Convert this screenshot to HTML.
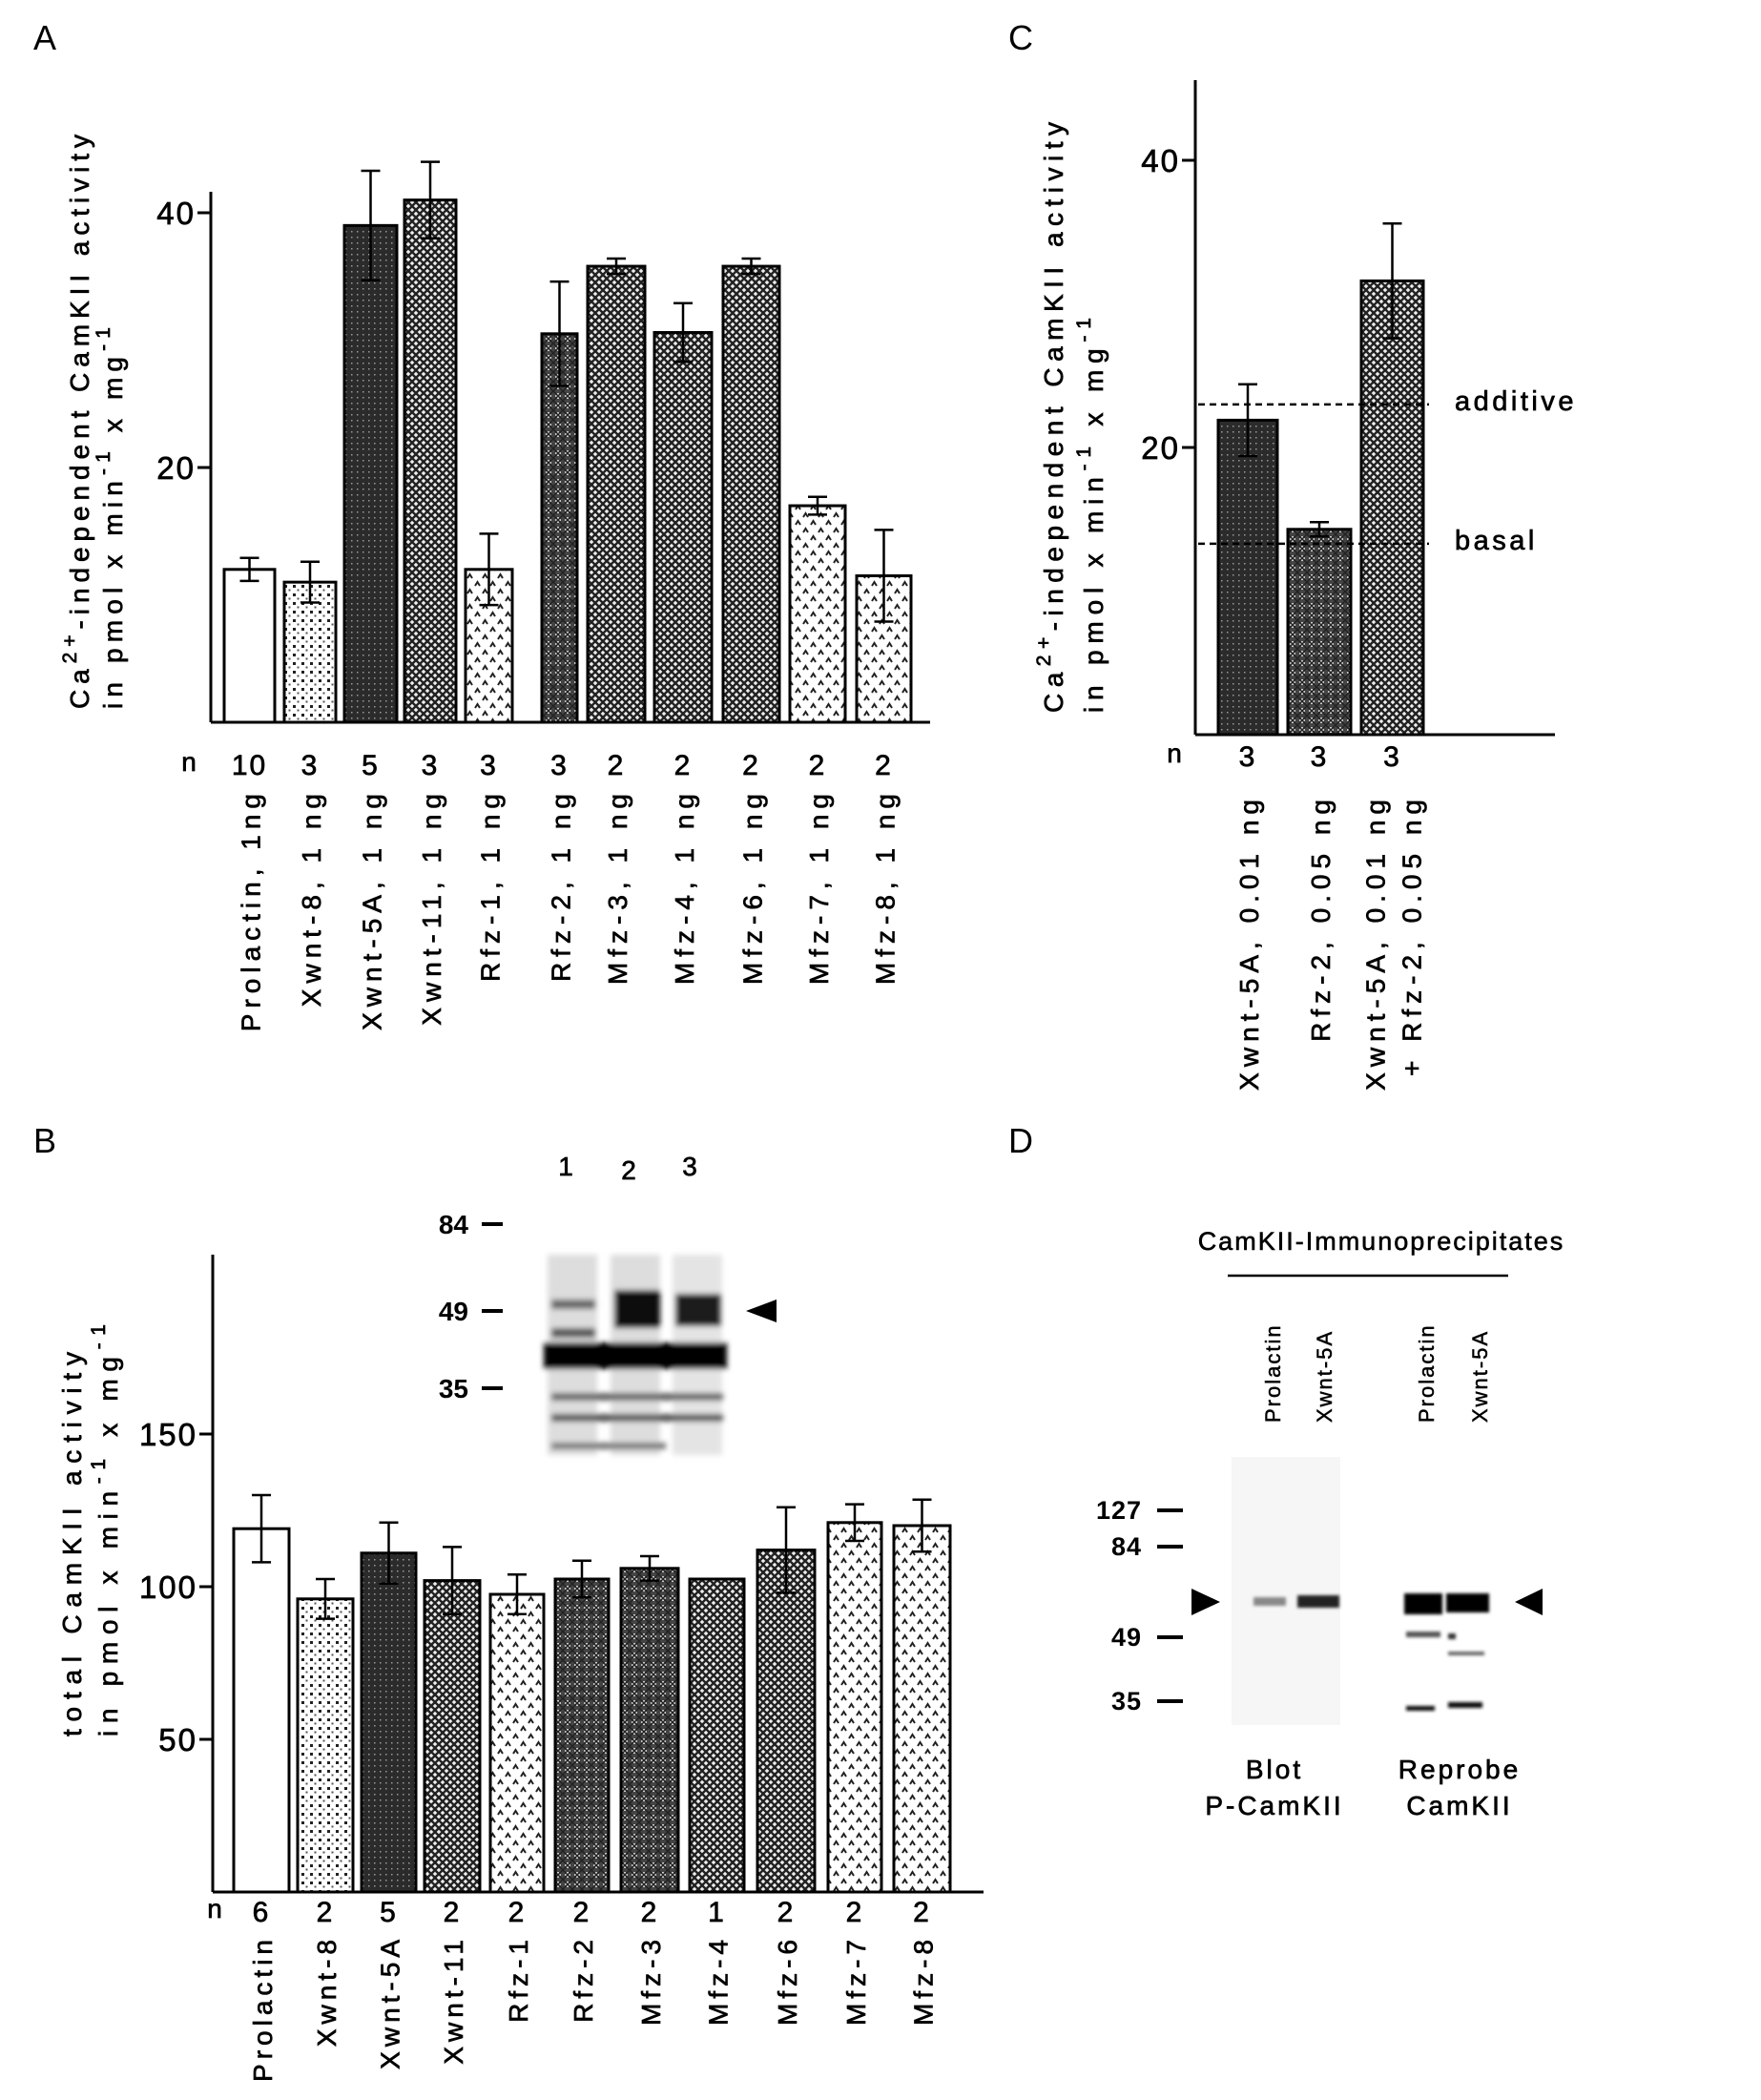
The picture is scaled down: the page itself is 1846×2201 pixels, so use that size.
<!DOCTYPE html>
<html><head><meta charset="utf-8">
<style>
html,body{margin:0;padding:0;background:#fff;}
svg{display:block;font-family:"Liberation Sans",sans-serif;}
.t{stroke:#000;stroke-width:0.7;}
</style></head>
<body>
<svg id="fig" width="1846" height="2201" viewBox="0 0 1846 2201" xmlns="http://www.w3.org/2000/svg" style="position:absolute;left:0;top:0">
<defs>
  <pattern id="p-dots" width="9" height="9" patternUnits="userSpaceOnUse">
    <rect width="9" height="9" fill="#fff"/><rect x="1" y="1" width="3" height="3" fill="#222"/><rect x="5.5" y="5.5" width="2" height="2" fill="#555"/>
  </pattern>
  <pattern id="p-caret" width="16" height="16" patternUnits="userSpaceOnUse">
    <rect width="16" height="16" fill="#fff"/><path d="M2 6 L4.5 2 L7 6" stroke="#222" stroke-width="2" fill="none"/><path d="M10 14 L12.5 10 L15 14" stroke="#222" stroke-width="2" fill="none"/>
  </pattern>
  <pattern id="p-dark" width="6" height="6" patternUnits="userSpaceOnUse">
    <rect width="6" height="6" fill="#2b2b2b"/><rect x="2" y="2" width="1.5" height="1.5" fill="#999"/>
  </pattern>
  <pattern id="p-xh" width="8" height="8" patternUnits="userSpaceOnUse">
    <rect width="8" height="8" fill="#eee"/><path d="M0 0 L8 8 M8 0 L0 8" stroke="#222" stroke-width="2.4"/>
  </pattern>
  <pattern id="p-plus" width="10" height="10" patternUnits="userSpaceOnUse">
    <rect width="10" height="10" fill="#444"/><path d="M5 2 V8 M2 5 H8" stroke="#eee" stroke-width="1.6"/><path d="M0 0 L10 10 M10 0 L0 10" stroke="#222" stroke-width="1.5"/>
  </pattern>
</defs>
<g id="root"></g>
</svg>
<script>
// ---- Panel A data ----
const catsA = ["Prolactin, 1ng","Xwnt-8, 1 ng","Xwnt-5A, 1 ng","Xwnt-11, 1 ng","Rfz-1, 1 ng","Rfz-2, 1 ng","Mfz-3, 1 ng","Mfz-4, 1 ng","Mfz-6, 1 ng","Mfz-7, 1 ng","Mfz-8, 1 ng"];
const valsA = [12, 11, 39, 41, 12, 30.5, 35.8, 30.6, 35.8, 17, 11.5];
const errA  = [0.9, 1.6, 4.3, 3, 2.8, 4.1, 0.6, 2.3, 0.6, 0.7, 3.6];
const nA    = ["10","3","5","3","3","3","2","2","2","2","2"];
const ticksA = [20, 40];
// ---- Panel B data ----
const catsB = ["Prolactin","Xwnt-8","Xwnt-5A","Xwnt-11","Rfz-1","Rfz-2","Mfz-3","Mfz-4","Mfz-6","Mfz-7","Mfz-8"];
const valsB = [119, 96, 111, 102, 97.5, 102.5, 106, 102.5, 112, 121, 120];
const errB  = [11, 6.5, 10, 11, 6.5, 6, 4, 0, 14, 6, 8.5];
const nB    = ["6","2","5","2","2","2","2","1","2","2","2"];
const ticksB = [50, 100, 150];
// ---- Panel C data ----
const catsC = [["Xwnt-5A, 0.01 ng"],["Rfz-2, 0.05 ng"],["Xwnt-5A, 0.01 ng","+ Rfz-2, 0.05 ng"]];
const valsC = [21.9, 14.3, 31.6];
const errC  = [2.5, 0.5, 4];
const nC    = ["3","3","3"];
const ticksC = [20, 40];
const refC  = [["additive", 23.0], ["basal", 13.3]];

const patsA = ["#fff","url(#p-dots)","url(#p-dark)","url(#p-xh)","url(#p-caret)","url(#p-plus)","url(#p-xh)","url(#p-xh)","url(#p-xh)","url(#p-caret)","url(#p-caret)"];
const patsB = ["#fff","url(#p-dots)","url(#p-dark)","url(#p-xh)","url(#p-caret)","url(#p-plus)","url(#p-plus)","url(#p-xh)","url(#p-xh)","url(#p-caret)","url(#p-caret)"];
const patsC = ["url(#p-dark)","url(#p-plus)","url(#p-xh)"];

const NS="http://www.w3.org/2000/svg";
const root=document.getElementById('root');
function mk(tag,attrs,parent){const e=document.createElementNS(NS,tag);for(const k in attrs)e.setAttribute(k,attrs[k]);(parent||root).appendChild(e);return e;}
function txt(s,attrs,parent){const e=mk('text',attrs,parent);e.textContent=s;return e;}

function panel(cfg){
  const g=mk('g',{});
  
  
  const y=v=>cfg.y0-v*cfg.ppu;
  const ya=mk('line',{x1:cfg.ax,y1:cfg.top,x2:cfg.ax,y2:cfg.y0,stroke:'#000','stroke-width':3},g);
  
  
  const xa=mk('line',{x1:cfg.ax,y1:cfg.y0,x2:cfg.xend,y2:cfg.y0,stroke:'#000','stroke-width':3},g);
  
  
  cfg.ticks.forEach(t=>{
    const tl=mk('line',{x1:cfg.ax-14,y1:y(t),x2:cfg.ax,y2:y(t),stroke:'#000','stroke-width':3},g);
    
    
    const lb=txt(String(t),{x:cfg.ax-16,y:y(t)+12,'text-anchor':'end','font-size':33,'letter-spacing':2,class:'t'},g);
    
    
  });
  cfg.vals.forEach((v,i)=>{
    const [x0,x1]=cfg.bx[i];
    const b=mk('rect',{x:x0,y:y(v),width:x1-x0,height:cfg.y0-y(v),fill:cfg.pats[i],stroke:'#000','stroke-width':3},g);
    
    
    const cx=(x0+x1)/2,e=cfg.err[i];
    if(e>0){
      const eb=mk('path',{d:`M${cx} ${y(v+e)} V${y(v-e)} M${cx-10} ${y(v+e)} H${cx+10} M${cx-10} ${y(v-e)} H${cx+10}`,stroke:'#000','stroke-width':2.5,fill:'none'},g);
      
      
    }
    const nl=txt(cfg.n[i],{x:cx,y:cfg.ny,'text-anchor':'middle','font-size':30,'letter-spacing':2,class:'t'},g);
    
    
    const lines=Array.isArray(cfg.cats[i])?cfg.cats[i]:[cfg.cats[i]];
    lines.forEach((s,j)=>{
      const lx=cx+11+(j-(lines.length-1)/2)*38;
      const cl=txt(s,{x:0,y:0,'text-anchor':'end','font-size':28,'letter-spacing':cfg.ls,class:'t',transform:`translate(${lx},${cfg.ly}) rotate(-90)`},g);
      
      
    });
  });
  const nn=txt('n',{x:cfg.nx,y:cfg.ny-4,'text-anchor':'middle','font-size':28,class:'t'},g);
  
  
  return {g,y};
}

const A=panel({name:'panel-a-chart',ax:221,top:201,y0:757,ppu:13.35,xend:975,ticks:ticksA,vals:valsA,err:errA,n:nA,cats:catsA,pats:patsA,ls:6,
 bx:[[235,288],[298,352],[361,416],[424,478],[488,537],[568,605],[616,676],[686,746],[758,817],[828,886],[898,955]],ny:812,ly:826,nx:198});
const B=panel({name:'panel-b-chart',ax:223,top:1315,y0:1983,ppu:3.2,xend:1031,ticks:ticksB,vals:valsB,err:errB,n:nB,cats:catsB,pats:patsB,ls:5,
 bx:[[245,303],[312,370],[379,436],[445,503],[514,570],[582,638],[651,711],[723,780],[794,854],[868,924],[937,996]],ny:2014,ly:2028,nx:225});
const C=panel({name:'panel-c-chart',ax:1253,top:84,y0:770,ppu:15.05,xend:1630,ticks:ticksC,vals:valsC,err:errC,n:nC,cats:catsC,pats:patsC,ls:6,
 bx:[[1277,1339],[1350,1416],[1427,1492]],ny:803,ly:832,nx:1231});
refC.forEach(([name,v])=>{
  const l=mk('line',{x1:1256,y1:C.y(v),x2:1498,y2:C.y(v),stroke:'#000','stroke-width':2.5,'stroke-dasharray':'7,5'});
  
  
  const t=txt(name,{x:1525,y:C.y(v)+6,'font-size':29,'letter-spacing':3.5,class:'t'});
  
  
});

function ytitle(name,x1,x2,yb,len1,len2,l1,l2){
  const g=mk('g',{});
  
  
  const t1=mk('text',{transform:`translate(${x1},${yb}) rotate(-90)`,'font-size':28,class:'t',textLength:len1,lengthAdjust:'spacing'},g);
  t1.innerHTML=l1;
  const t2=mk('text',{transform:`translate(${x2},${yb}) rotate(-90)`,'font-size':28,class:'t',textLength:len2,lengthAdjust:'spacing'},g);
  t2.innerHTML=l2;
}
const sup=s=>`<tspan dy="-13" font-size="21">${s}</tspan><tspan dy="13">`;
ytitle('panel-a-y-axis-title',93,128,743,602,400,
 `Ca${sup('2+')}-independent CamKII activity</tspan>`,
 `in pmol x min${sup('-1')} x mg${sup('-1')}</tspan></tspan>`);
ytitle('panel-c-y-axis-title',1114,1156,747,619,414,
 `Ca${sup('2+')}-independent CamKII activity</tspan>`,
 `in pmol x min${sup('-1')} x mg${sup('-1')}</tspan></tspan>`);
ytitle('panel-b-y-axis-title',85,123,1820,403,432,
 `total CamKII activity`,
 `in pmol x min${sup('-1')} x mg${sup('-1')}</tspan></tspan>`);

[['A',35,52],['C',1057,52],['B',35,1208],['D',1057,1208]].forEach(([s,x,y])=>{
  const t=txt(s,{x:x,y:y,'font-size':36});
  
  
});
</script>

<svg style="position:absolute;left:0;top:0" width="1846" height="2201">
 <defs>
  <filter id="bb"><feGaussianBlur stdDeviation="3"/></filter>
  <filter id="bs"><feGaussianBlur stdDeviation="1.5"/></filter>
 </defs>
 <g font-family="Liberation Sans, sans-serif" stroke-width="0.7">
  <text x="593" y="1232" font-size="28" text-anchor="middle" stroke="#000">1</text>
  <text x="659" y="1236" font-size="28" text-anchor="middle" stroke="#000">2</text>
  <text x="723" y="1232" font-size="28" text-anchor="middle" stroke="#000">3</text>
  <text x="491" y="1293" font-size="28" text-anchor="end" font-weight="bold">84</text>
  <text x="491" y="1384" font-size="28" text-anchor="end" font-weight="bold">49</text>
  <text x="491" y="1465" font-size="28" text-anchor="end" font-weight="bold">35</text>
  <rect x="505" y="1281" width="22" height="4"/><rect x="505" y="1372" width="22" height="4"/><rect x="505" y="1453" width="22" height="4"/>
  <g filter="url(#bb)">
   <rect x="574" y="1315" width="52" height="210" fill="#ddd"/>
   <rect x="640" y="1315" width="52" height="210" fill="#ddd"/>
   <rect x="705" y="1315" width="52" height="210" fill="#e4e4e4"/>
   <rect x="578" y="1362" width="46" height="10" fill="#666"/>
   <rect x="578" y="1392" width="46" height="10" fill="#555"/>
   <rect x="644" y="1352" width="48" height="40" fill="#111"/>
   <rect x="708" y="1356" width="48" height="34" fill="#1a1a1a"/>
   <rect x="570" y="1407" width="192" height="28" fill="#000"/>
   <rect x="578" y="1460" width="180" height="8" fill="#666"/>
   <rect x="578" y="1482" width="180" height="8" fill="#555"/>
   <rect x="578" y="1512" width="120" height="7" fill="#777"/>
  </g>
  <path d="M782 1374 L814 1362 L814 1386 Z"/>
 </g>
 <g font-family="Liberation Sans, sans-serif">
  <text x="1448" y="1310" font-size="27" text-anchor="middle" letter-spacing="2" stroke="#000" stroke-width="0.6">CamKII-Immunoprecipitates</text>
  <line x1="1287" y1="1337" x2="1581" y2="1337" stroke="#000" stroke-width="2.5"/>
  <text transform="translate(1342,1491) rotate(-90)" font-size="22" letter-spacing="2" stroke="#000" stroke-width="0.5">Prolactin</text>
  <text transform="translate(1396,1491) rotate(-90)" font-size="22" letter-spacing="2" stroke="#000" stroke-width="0.5">Xwnt-5A</text>
  <text transform="translate(1503,1491) rotate(-90)" font-size="22" letter-spacing="2" stroke="#000" stroke-width="0.5">Prolactin</text>
  <text transform="translate(1559,1491) rotate(-90)" font-size="22" letter-spacing="2" stroke="#000" stroke-width="0.5">Xwnt-5A</text>
  <text x="1197" y="1592" font-size="27" text-anchor="end" font-weight="bold" letter-spacing="1">127</text>
  <text x="1197" y="1630" font-size="27" text-anchor="end" font-weight="bold" letter-spacing="1">84</text>
  <text x="1197" y="1725" font-size="27" text-anchor="end" font-weight="bold" letter-spacing="1">49</text>
  <text x="1197" y="1792" font-size="27" text-anchor="end" font-weight="bold" letter-spacing="1">35</text>
  <rect x="1213" y="1581" width="27" height="4"/><rect x="1213" y="1619" width="27" height="4"/><rect x="1213" y="1714" width="27" height="4"/><rect x="1213" y="1781" width="27" height="4"/>
  <path d="M1249 1665 L1279 1679 L1249 1693 Z"/>
  <path d="M1617 1665 L1588 1679 L1617 1693 Z"/>
  <rect x="1291" y="1527" width="114" height="281" fill="#f6f6f6"/>
  <g filter="url(#bs)">
   <rect x="1314" y="1674" width="34" height="9" fill="#888"/>
   <rect x="1360" y="1672" width="44" height="13" fill="#222"/>
   <rect x="1472" y="1670" width="40" height="22" fill="#000"/>
   <rect x="1516" y="1670" width="45" height="20" fill="#000"/>
   <rect x="1474" y="1710" width="36" height="6" fill="#555"/>
   <rect x="1518" y="1712" width="8" height="6" fill="#333"/>
   <rect x="1518" y="1731" width="38" height="4" fill="#666"/>
   <rect x="1474" y="1788" width="30" height="5" fill="#111"/>
   <rect x="1518" y="1784" width="36" height="6" fill="#111"/>
  </g>
  <g stroke="#000" stroke-width="0.7" font-size="28" letter-spacing="3" text-anchor="middle">
  <text x="1336" y="1864">Blot</text>
  <text x="1336" y="1902">P-CamKII</text>
  <text x="1530" y="1864">Reprobe</text>
  <text x="1530" y="1902">CamKII</text>
  </g>
 </g>
</svg>
</body></html>
